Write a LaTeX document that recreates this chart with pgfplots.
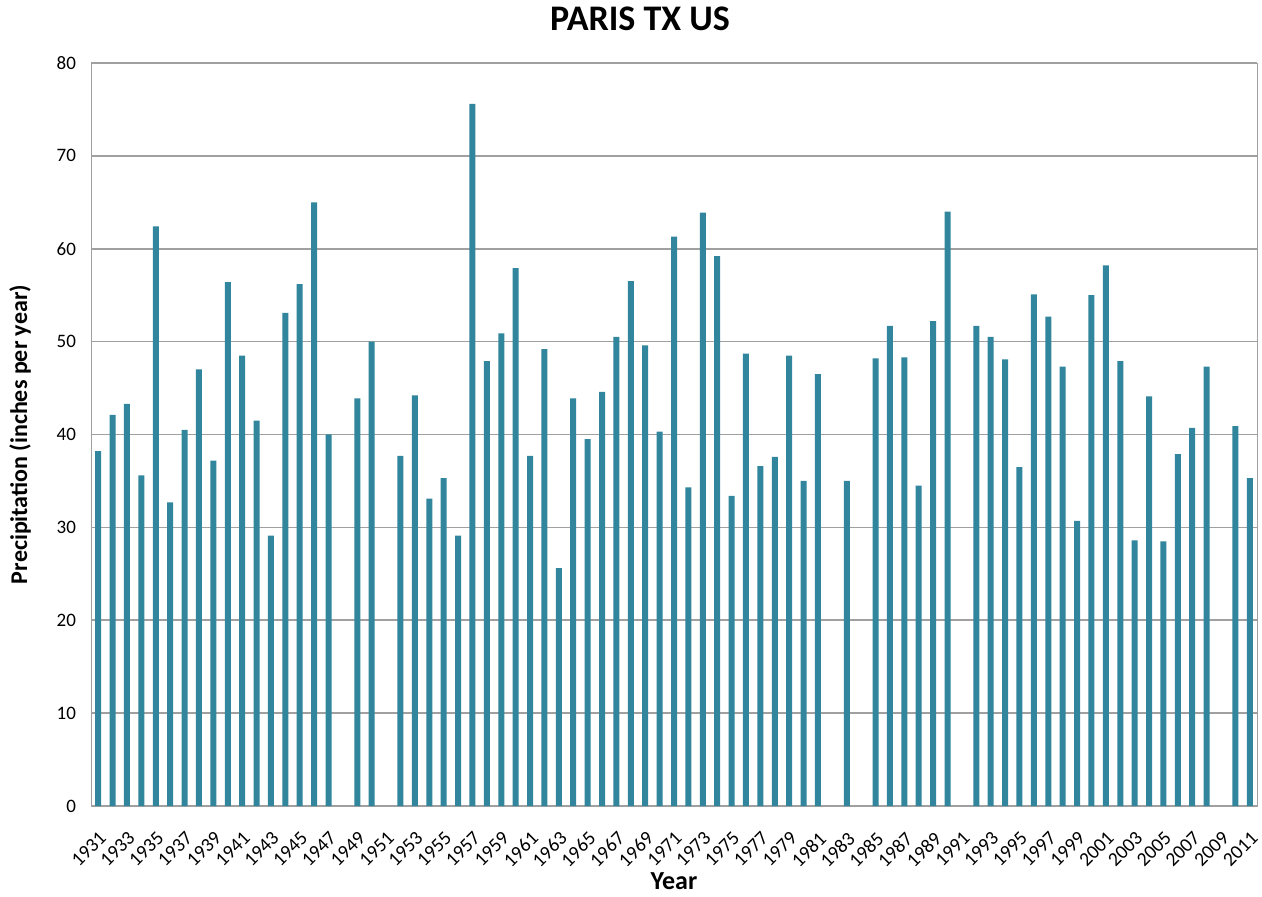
\documentclass[border=0pt]{standalone}
\usepackage{fontspec}
\setmainfont{Carlito}
\usepackage{pgfplots}
\pgfplotsset{compat=1.18}
\usepackage{pgfplotstable}
\definecolor{barcol}{RGB}{49,133,156}
\definecolor{gridcol}{RGB}{160,160,160}
\pgfplotstableread{
year value
1931 38.2
1932 42.1
1933 43.3
1934 35.6
1935 62.4
1936 32.7
1937 40.5
1938 47.0
1939 37.2
1940 56.4
1941 48.5
1942 41.5
1943 29.1
1944 53.1
1945 56.2
1946 65.0
1947 40.0
1949 43.9
1950 50.0
1952 37.7
1953 44.2
1954 33.1
1955 35.3
1956 29.1
1957 75.6
1958 47.9
1959 50.9
1960 57.9
1961 37.7
1962 49.2
1963 25.6
1964 43.9
1965 39.5
1966 44.6
1967 50.5
1968 56.5
1969 49.6
1970 40.3
1971 61.3
1972 34.3
1973 63.9
1974 59.2
1975 33.4
1976 48.7
1977 36.6
1978 37.6
1979 48.5
1980 35.0
1981 46.5
1983 35.0
1985 48.2
1986 51.7
1987 48.3
1988 34.5
1989 52.2
1990 64.0
1992 51.7
1993 50.5
1994 48.1
1995 36.5
1996 55.1
1997 52.7
1998 47.3
1999 30.7
2000 55.0
2001 58.2
2002 47.9
2003 28.6
2004 44.1
2005 28.5
2006 37.9
2007 40.7
2008 47.3
2010 40.9
2011 35.3
}\datatable
\begin{document}
\begin{tikzpicture}
\begin{axis}[
  name=ax,
  scale only axis,
  width=583pt, height=371.5pt,
  xmin=1930.5, xmax=2011.5,
  ymin=0, ymax=80,
  ytick={0,10,...,80},
  xtick={1931,1933,...,2011},
  xticklabel={\pgfmathprintnumber[1000 sep={}]{\tick}},
  /pgf/number format/assume math mode=true,
  major tick length=0pt,
  axis line style={gridcol},
  ymajorgrids,
  grid style={gridcol, line width=0.8pt},
  y tick label style={font=\fontsize{9.5}{11}\selectfont, xshift=-4pt},
  x tick label style={font=\fontsize{9.8}{11}\selectfont, xshift=0pt, yshift=-12pt, rotate=45, anchor=north east, inner sep=0pt},
  title={PARIS TX US},
  title style={font=\fontsize{18}{20}\selectfont\bfseries, at={(axis description cs:0.4708,1.028)}, anchor=base, yshift=0pt},
  xlabel={Year},
  xlabel style={font=\fontsize{13}{15}\selectfont\bfseries, at={(axis description cs:0.5,-0.113)}, anchor=base},
  ylabel={Precipitation (inches per year)},
  ylabel style={font=\fontsize{12}{14}\selectfont\bfseries, at={(axis description cs:-0.0609,0.5)}, anchor=center, rotate=0},
]
\addplot[ybar, bar width=3pt, fill=barcol, draw=none] table[x=year, y=value] {\datatable};
\end{axis}
\pgfresetboundingbox
\path[use as bounding box] ([shift={(-45.5pt,-45pt)}]ax.south west) rectangle ([shift={(2.5pt,31.5pt)}]ax.north east);
\end{tikzpicture}
\end{document}
